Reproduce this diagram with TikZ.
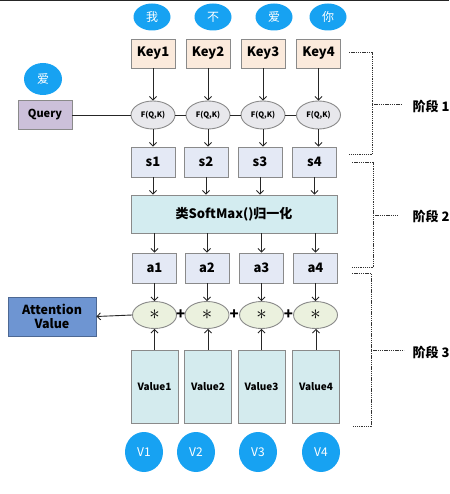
\documentclass[tikz,border=0pt]{standalone}
\usepackage{fontspec}
\setmainfont{Noto Sans CJK SC}
\usetikzlibrary{arrows.meta,shapes.geometric,calc}
\definecolor{cblue}{HTML}{17A2F2}
\definecolor{keyfill}{HTML}{FBEADC}
\definecolor{sfill}{HTML}{E4E9F5}
\definecolor{smfill}{HTML}{D3ECF0}
\definecolor{vfill}{HTML}{D4EBEE}
\definecolor{ffill}{HTML}{E8E8EC}
\definecolor{efill}{HTML}{EBF1DE}
\definecolor{qfill}{HTML}{CCC0DA}
\definecolor{avfill}{HTML}{6E95D2}
\definecolor{bord}{HTML}{8A8A8A}
\tikzset{
  circ/.style={ellipse,fill=cblue,draw=none,text=white,inner sep=0pt,font=\fontsize{12}{12}\selectfont},
  boxn/.style={rectangle,draw=bord,line width=0.9pt,inner sep=0pt,font=\bfseries\fontsize{13}{13}\selectfont},
  fell/.style={ellipse,draw=bord,fill=ffill,line width=0.9pt,inner sep=0pt,minimum width=44pt,minimum height=28pt,font=\bfseries\fontsize{7.5}{8}\selectfont},
  eell/.style={ellipse,draw=bord,fill=efill,line width=0.9pt,inner sep=0pt,minimum width=44pt,minimum height=27pt,font=\fontsize{20}{20}\selectfont},
  arr/.style={-{Straight Barb[length=3.5pt,width=7pt]},line width=0.9pt,black!85},
  ln/.style={line width=0.9pt,black!85},
  brk/.style={line width=1pt,black!80,dash pattern=on 1.3pt off 0.9pt},
  stage/.style={font=\bfseries\fontsize{13}{13}\selectfont,anchor=west}
}
\newcommand{\myast}{\raisebox{1.5pt}{$\ast$}}
\begin{document}
\begin{tikzpicture}[x=1pt,y=-1pt]
\useasboundingbox (0,0) rectangle (449,494);
\fill[black!85] (0,0) rectangle (449,1.5);
% top circles
\node[circ,minimum width=37pt,minimum height=27pt] (t1) at (152,17) {我};
\node[circ,minimum width=37pt,minimum height=27pt] (t2) at (213,17) {不};
\node[circ,minimum width=37pt,minimum height=27pt] (t3) at (274,17) {爱};
\node[circ,minimum width=37pt,minimum height=27pt] (t4) at (328,17) {你};
\node[circ,minimum width=38pt,minimum height=32pt] (qc) at (43,79) {爱};
% keys
\foreach \i/\x in {1/153,2/208,3/263,4/318.5}{
  \node[boxn,fill=keyfill,minimum width=44pt,minimum height=29pt] (k\i) at (\x,53.5) {Key\i};
  \node[fell] (f\i) at (\x,115) {F(Q,K)};
}
\node[boxn,fill=qfill,minimum width=54pt,minimum height=29pt,font=\bfseries\fontsize{11}{11}\selectfont] (q) at (45,115) {Query};
% s boxes
\foreach \i/\x in {1/153,2/206,3/260,4/314.5}{
  \node[boxn,fill=sfill,minimum width=44pt,minimum height=30pt] (s\i) at (\x,162) {s\i};
}
\node[boxn,fill=smfill,minimum width=206pt,minimum height=38pt] (sm) at (234,214) {类SoftMax()归一化};
\foreach \i/\x in {1/154.5,2/207,3/261.5,4/315.5}{
  \node[boxn,fill=sfill,minimum width=44pt,minimum height=30pt] (a\i) at (\x,268) {a\i};
  \node[eell] (e\i) at (\x,315) {\myast};
}
\foreach \i/\x in {1/154.5,2/208,3/261.5,4/316}{
  \node[boxn,fill=vfill,minimum width=47pt,minimum height=73pt,font=\bfseries\fontsize{10}{10}\selectfont] (v\i) at (\x,386.5) {Value\i};
}
\foreach \i/\x in {1/144,2/196,3/258,4/321}{
  \node[circ,minimum width=38pt,minimum height=40pt] (vc\i) at (\x,452) {V\i};
}
\node[boxn,fill=avfill,draw=avfill!70!black,minimum width=88pt,minimum height=39pt,align=center,font=\bfseries\fontsize{12.5}{14}\selectfont] (av) at (52,316.5) {Attention\\Value};
% connectors
\draw[ln] (q.east) -- (f1.west);
\draw[ln] (f1.east) -- (f2.west);
\draw[ln] (f2.east) -- (f3.west);
\draw[ln] (f3.east) -- (f4.west);
\foreach \i in {1,2,3,4}{
  \draw[arr] (k\i.south) -- (f\i.north);
  \draw[arr] (f\i.south) -- (f\i.south |- s\i.north);
  \draw[arr] (s\i.south) -- (s\i.south |- sm.north);
  \draw[arr] (a\i.north |- sm.south) -- (a\i.north);
  \draw[arr] (a\i.south) -- (e\i.north);
  \draw[arr] (v\i.north) -- (v\i.north |- e\i.south);
}
\draw[arr] (e1.west) -- (av.east);
\node[font=\bfseries\fontsize{15}{15}\selectfont,inner sep=0pt] (p1) at ($(e1.east)!0.5!(e2.west)$) {+};
\node[font=\bfseries\fontsize{15}{15}\selectfont,inner sep=0pt] (p2) at ($(e2.east)!0.5!(e3.west)$) {+};
\node[font=\bfseries\fontsize{15}{15}\selectfont,inner sep=0pt] (p3) at ($(e3.east)!0.5!(e4.west)$) {+};
% brackets
\coordinate (b1a) at (349,53); \coordinate (b1b) at (372,53);
\coordinate (b1c) at (372,155); \coordinate (b1d) at (349,155);
\coordinate (b1m) at (372,105); \coordinate (b1t) at (401,105);
\draw[brk] (b1a) -- (b1b) -- (b1c) -- (b1d);
\draw[brk] (b1m) -- (b1t);
\node[stage] (l1) at (409,106) {阶段 1};
\coordinate (b2a) at (352,163); \coordinate (b2b) at (373,163);
\coordinate (b2c) at (373,267); \coordinate (b2d) at (352,267);
\coordinate (b2m) at (373,215); \coordinate (b2t) at (398,215);
\draw[brk] (b2a) -- (b2b) -- (b2c) -- (b2d);
\draw[brk] (b2m) -- (b2t);
\node[stage] (l2) at (409,216) {阶段 2};
\coordinate (b3a) at (352,273); \coordinate (b3b) at (371,273);
\coordinate (b3c) at (371,426); \coordinate (b3d) at (352,426);
\coordinate (b3m) at (371,350); \coordinate (b3t) at (404,350);
\draw[brk] (b3a) -- (b3b) -- (b3c) -- (b3d);
\draw[brk] (b3m) -- (b3t);
\node[stage] (l3) at (409,352) {阶段 3};
\end{tikzpicture}
\end{document}
